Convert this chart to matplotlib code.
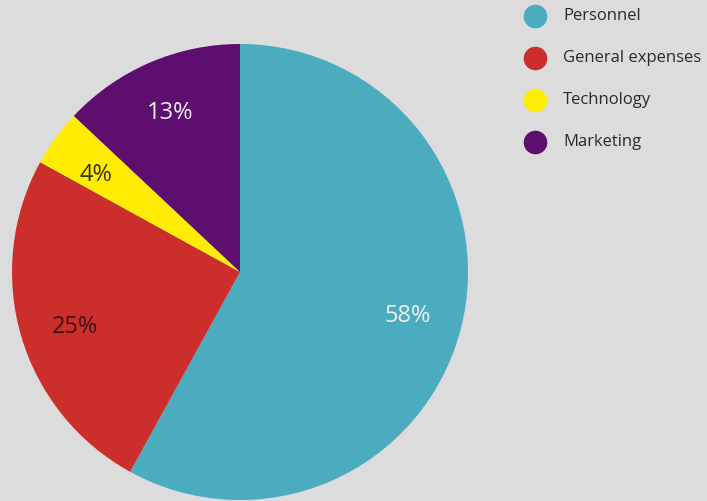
import matplotlib.pyplot as plt

categories = ['Personnel', 'General expenses', 'Technology', 'Marketing']
shares = [58, 25, 4, 13]
colors = ['#4BACC0', '#CC2E2C', '#FFEC00', '#5E0E6E']
label_colors = ['#EEEEEE', '#3A1414', '#3A3000', '#EEEEEE']
label_pos = [(408, 316), (75, 327), (96, 175), (170, 113)]

bg = '#DCDCDC'
fig = plt.figure(figsize=(7.07, 5.01), dpi=100, facecolor=bg)
ax = fig.add_axes([0, 0, 1, 1])
ax.set_facecolor(bg)

# pie drawn with inverted y, so go counterclock to end up clockwise on screen
wedges, _ = ax.pie(shares, colors=colors, startangle=-90, counterclock=True,
                   center=(240, 272), radius=228, frame=True,
                   wedgeprops=dict(linewidth=0))
ax.set_xlim(0, 707)
ax.set_ylim(501, 0)
ax.axis('off')

for s, c, (x, y) in zip(shares, label_colors, label_pos):
    ax.text(x, y, f'{s}%', color=c, fontsize=17, family='Open Sans',
            ha='center', va='center')

# legend
for i, (name, col) in enumerate(zip(categories, colors)):
    y = 16 + i * 42
    ax.plot(535, y, 'o', ms=16, color=col, clip_on=False)
    ax.text(563, y, name, color='#2A2A2A', fontsize=12, family='Open Sans',
            ha='left', va='center')

fig.savefig('out.png', dpi=100, facecolor=bg)
